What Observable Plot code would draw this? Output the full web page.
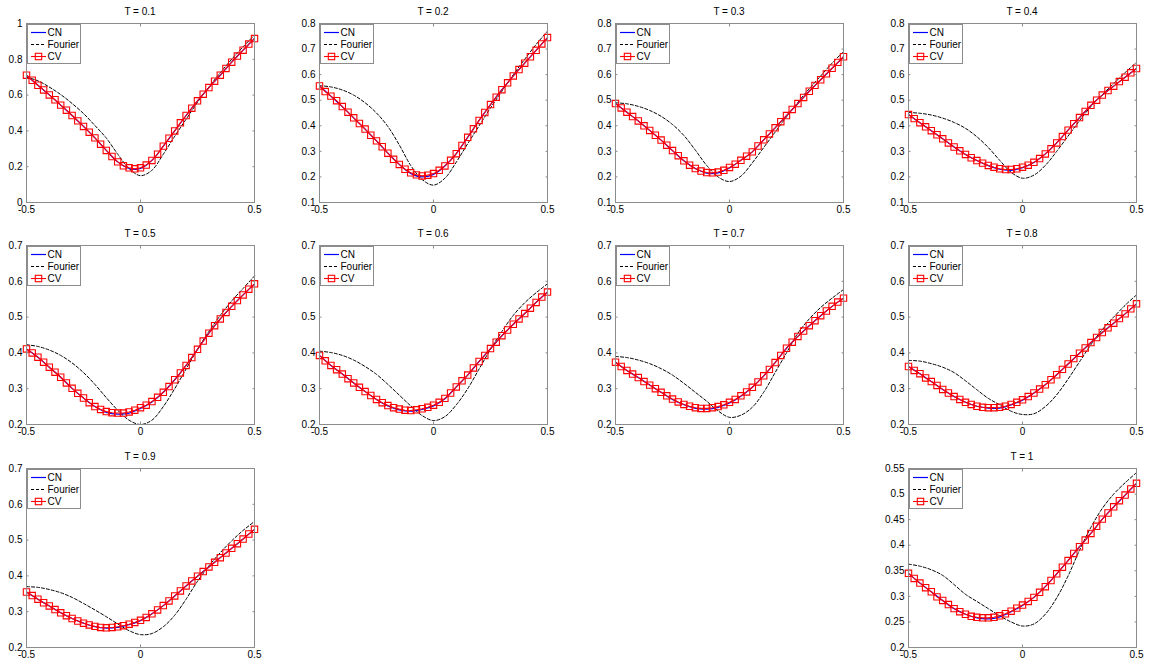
<!DOCTYPE html>
<html><head><meta charset="utf-8">
<script src="https://cdn.jsdelivr.net/npm/d3@7"></script>
<script src="https://cdn.jsdelivr.net/npm/@observablehq/plot@0.6"></script>
<style>
body{margin:0;background:#fff;font-family:"Liberation Sans",Arial,sans-serif;}
#root{position:relative;width:1151px;height:664px;overflow:hidden;background:#fff;}
.panel{position:absolute;}
.title{position:absolute;font-size:10px;line-height:12px;text-align:center;white-space:nowrap;color:#000;}
.legend{position:absolute;background:#fff;border:1px solid #8c8c8c;box-sizing:border-box;}
</style></head><body><div id="root"></div>
<script>
// ---------- data ----------
const xCV = [-0.5,-0.475,-0.45,-0.425,-0.4,-0.375,-0.35,-0.325,-0.3,-0.275,-0.25,-0.225,-0.2,-0.175,-0.15,-0.125,-0.1,-0.075,-0.05,-0.025,0,0.025,0.05,0.075,0.1,0.125,0.15,0.175,0.2,0.225,0.25,0.275,0.3,0.325,0.35,0.375,0.4,0.425,0.45,0.475,0.5];
const xF = [-0.5,-0.45,-0.4,-0.35,-0.3,-0.25,-0.2,-0.15,-0.1,-0.05,0,0.05,0.1,0.15,0.2,0.25,0.3,0.35,0.4,0.45,0.5];
const xTicks = [-0.5, 0, 0.5];
const titles = ["T = 0.1","T = 0.2","T = 0.3","T = 0.4","T = 0.5","T = 0.6","T = 0.7","T = 0.8","T = 0.9","T = 1"];
const seriesNames = ["CN","Fourier","CV"];

const yTicksA = [0,0.2,0.4,0.6,0.8,1];
const yTicksB = [0.1,0.2,0.3,0.4,0.5,0.6,0.7,0.8];
const yTicksC = [0.2,0.3,0.4,0.5,0.6,0.7];
const yTicksD = [0.2,0.25,0.3,0.35,0.4,0.45,0.5,0.55];

// CV (red squares), 41 points each
const cv01 = [0.711,0.683,0.655,0.629,0.601,0.574,0.544,0.516,0.486,0.456,0.425,0.393,0.361,0.326,0.291,0.257,0.227,0.205,0.194,0.188,0.194,0.209,0.235,0.270,0.315,0.359,0.400,0.445,0.486,0.527,0.568,0.605,0.642,0.678,0.711,0.749,0.784,0.818,0.851,0.885,0.916];
const cv02 = [0.556,0.534,0.516,0.498,0.475,0.453,0.431,0.409,0.387,0.363,0.341,0.318,0.293,0.269,0.249,0.230,0.216,0.208,0.204,0.207,0.213,0.226,0.243,0.265,0.291,0.323,0.355,0.388,0.421,0.452,0.483,0.512,0.541,0.568,0.595,0.620,0.645,0.670,0.695,0.720,0.745];
const cv03 = [0.487,0.470,0.453,0.436,0.419,0.400,0.382,0.363,0.344,0.324,0.303,0.283,0.263,0.246,0.233,0.223,0.217,0.216,0.219,0.226,0.237,0.250,0.265,0.281,0.298,0.321,0.345,0.368,0.392,0.416,0.440,0.464,0.487,0.511,0.535,0.558,0.580,0.603,0.625,0.648,0.670];
const cv04 = [0.444,0.428,0.412,0.396,0.381,0.365,0.349,0.333,0.317,0.302,0.288,0.275,0.264,0.254,0.245,0.238,0.232,0.229,0.229,0.232,0.238,0.246,0.257,0.272,0.290,0.310,0.333,0.358,0.383,0.408,0.432,0.456,0.480,0.500,0.520,0.538,0.555,0.573,0.590,0.607,0.624];
const cv05 = [0.411,0.400,0.388,0.374,0.360,0.346,0.332,0.316,0.301,0.287,0.274,0.261,0.250,0.242,0.236,0.233,0.232,0.232,0.235,0.240,0.247,0.254,0.264,0.276,0.290,0.306,0.325,0.344,0.365,0.387,0.410,0.433,0.455,0.476,0.495,0.513,0.530,0.546,0.562,0.578,0.593];
const cv06 = [0.393,0.378,0.365,0.353,0.341,0.328,0.316,0.304,0.292,0.281,0.270,0.261,0.253,0.247,0.243,0.240,0.239,0.241,0.244,0.248,0.254,0.262,0.273,0.288,0.305,0.322,0.338,0.358,0.376,0.393,0.412,0.430,0.448,0.464,0.480,0.495,0.510,0.525,0.541,0.556,0.570];
const cv07 = [0.374,0.362,0.351,0.341,0.331,0.320,0.310,0.300,0.290,0.280,0.271,0.263,0.256,0.251,0.247,0.245,0.245,0.247,0.250,0.255,0.262,0.270,0.280,0.291,0.304,0.319,0.336,0.354,0.373,0.393,0.413,0.430,0.446,0.461,0.476,0.490,0.504,0.517,0.530,0.542,0.553];
const cv08 = [0.362,0.351,0.342,0.330,0.320,0.309,0.298,0.288,0.278,0.270,0.262,0.256,0.251,0.248,0.247,0.247,0.248,0.251,0.256,0.262,0.269,0.278,0.288,0.299,0.311,0.325,0.339,0.354,0.369,0.384,0.399,0.414,0.429,0.443,0.457,0.470,0.483,0.496,0.509,0.523,0.537];
const cv09 = [0.355,0.345,0.335,0.325,0.316,0.306,0.297,0.289,0.281,0.274,0.268,0.263,0.259,0.256,0.255,0.256,0.258,0.261,0.265,0.270,0.276,0.284,0.294,0.305,0.317,0.330,0.344,0.358,0.372,0.386,0.399,0.412,0.425,0.438,0.451,0.464,0.477,0.490,0.503,0.517,0.530];
const cv10 = [0.345,0.335,0.326,0.317,0.309,0.299,0.292,0.284,0.276,0.270,0.265,0.261,0.259,0.258,0.258,0.259,0.262,0.266,0.271,0.277,0.283,0.290,0.298,0.308,0.319,0.331,0.344,0.357,0.370,0.384,0.397,0.410,0.423,0.437,0.451,0.463,0.475,0.487,0.498,0.510,0.521];

// CN (blue solid), 21 points each
const cn01 = [0.711,0.655,0.601,0.544,0.486,0.425,0.361,0.291,0.227,0.190,0.190,0.235,0.315,0.400,0.486,0.568,0.642,0.711,0.784,0.851,0.916];
const cn02 = [0.556,0.516,0.475,0.431,0.387,0.341,0.293,0.249,0.214,0.200,0.210,0.243,0.291,0.355,0.421,0.483,0.541,0.595,0.645,0.695,0.745];
const cn03 = [0.487,0.453,0.419,0.382,0.344,0.303,0.263,0.233,0.215,0.216,0.235,0.265,0.298,0.345,0.392,0.440,0.487,0.535,0.580,0.625,0.670];
const cn04 = [0.444,0.412,0.381,0.349,0.317,0.288,0.264,0.244,0.230,0.226,0.236,0.256,0.290,0.333,0.383,0.432,0.480,0.520,0.555,0.590,0.624];
const cn05 = [0.411,0.388,0.360,0.332,0.301,0.274,0.250,0.234,0.229,0.232,0.245,0.263,0.290,0.325,0.365,0.410,0.455,0.495,0.530,0.562,0.593];
const cn06 = [0.393,0.365,0.341,0.316,0.292,0.270,0.252,0.241,0.237,0.242,0.252,0.272,0.305,0.338,0.376,0.412,0.448,0.480,0.510,0.541,0.570];
const cn07 = [0.374,0.351,0.331,0.310,0.290,0.270,0.255,0.245,0.243,0.248,0.260,0.279,0.304,0.336,0.373,0.413,0.446,0.476,0.504,0.530,0.553];
const cn08 = [0.362,0.342,0.320,0.298,0.278,0.262,0.251,0.246,0.246,0.255,0.268,0.288,0.311,0.339,0.369,0.399,0.429,0.457,0.483,0.509,0.537];
const cn09 = [0.355,0.335,0.316,0.297,0.281,0.268,0.258,0.254,0.256,0.264,0.275,0.294,0.317,0.344,0.372,0.399,0.425,0.451,0.477,0.503,0.530];
const cn10 = [0.345,0.326,0.309,0.292,0.276,0.265,0.258,0.256,0.260,0.270,0.282,0.298,0.319,0.344,0.370,0.397,0.423,0.451,0.475,0.498,0.521];

// Fourier (black dashed), 21 points each
const f01 = [0.700,0.680,0.645,0.603,0.553,0.497,0.430,0.360,0.270,0.190,0.150,0.180,0.270,0.370,0.465,0.560,0.645,0.725,0.800,0.870,0.935];
const f02 = [0.557,0.552,0.540,0.520,0.490,0.450,0.397,0.325,0.245,0.190,0.168,0.195,0.258,0.330,0.400,0.470,0.535,0.600,0.660,0.718,0.770];
const f03 = [0.490,0.486,0.476,0.460,0.437,0.405,0.362,0.305,0.245,0.200,0.182,0.203,0.255,0.315,0.375,0.435,0.492,0.545,0.595,0.645,0.690];
const f04 = [0.452,0.449,0.442,0.430,0.413,0.390,0.357,0.315,0.265,0.218,0.195,0.207,0.245,0.300,0.360,0.420,0.475,0.522,0.565,0.608,0.648];
const f05 = [0.423,0.418,0.408,0.393,0.372,0.345,0.312,0.275,0.240,0.212,0.200,0.212,0.250,0.300,0.355,0.410,0.460,0.505,0.545,0.580,0.615];
const f06 = [0.405,0.401,0.393,0.380,0.362,0.340,0.312,0.282,0.252,0.225,0.211,0.222,0.255,0.300,0.355,0.410,0.460,0.505,0.540,0.568,0.593];
const f07 = [0.390,0.387,0.380,0.370,0.356,0.338,0.315,0.290,0.265,0.238,0.220,0.226,0.248,0.290,0.345,0.400,0.455,0.495,0.527,0.553,0.577];
const f08 = [0.379,0.377,0.370,0.360,0.345,0.322,0.297,0.273,0.255,0.237,0.228,0.230,0.250,0.283,0.327,0.375,0.423,0.465,0.500,0.533,0.562];
const f09 = [0.370,0.368,0.362,0.353,0.340,0.323,0.305,0.286,0.266,0.247,0.236,0.239,0.258,0.290,0.335,0.385,0.428,0.465,0.498,0.527,0.552];
const f10 = [0.363,0.359,0.352,0.341,0.323,0.304,0.290,0.276,0.262,0.250,0.242,0.246,0.265,0.297,0.340,0.390,0.435,0.472,0.500,0.522,0.542];

// ---------- layout ----------
const panels = [
  {title: titles[0], cv: cv01, cn: cn01, f: f01, yt: yTicksA},
  {title: titles[1], cv: cv02, cn: cn02, f: f02, yt: yTicksB},
  {title: titles[2], cv: cv03, cn: cn03, f: f03, yt: yTicksB},
  {title: titles[3], cv: cv04, cn: cn04, f: f04, yt: yTicksB},
  {title: titles[4], cv: cv05, cn: cn05, f: f05, yt: yTicksC},
  {title: titles[5], cv: cv06, cn: cn06, f: f06, yt: yTicksC},
  {title: titles[6], cv: cv07, cn: cn07, f: f07, yt: yTicksC},
  {title: titles[7], cv: cv08, cn: cn08, f: f08, yt: yTicksC},
  {title: titles[8], cv: cv09, cn: cn09, f: f09, yt: yTicksC},
  {title: titles[9], cv: cv10, cn: cn10, f: f10, yt: yTicksD}
];
const axLeft = [26, 319, 615, 908, 26, 319, 615, 908, 26, 908];
const axTop  = [23, 23, 23, 23, 245, 245, 245, 245, 468, 468];
const AW = 228, AH = 179;
const mL = 32, mR = 12, mT = 6, mB = 20;
const frameColor = "#8c8c8c";
const fmt = d => String(d);

const root = document.getElementById("root");

panels.forEach((p, i) => {
  const L = axLeft[i], T = axTop[i];
  const rowsCV = xCV.map((x, j) => ({x, y: p.cv[j]}));
  const rowsCN = xF.map((x, j) => ({x, y: p.cn[j]}));
  const rowsF  = xF.map((x, j) => ({x, y: p.f[j]}));
  const chart = Plot.plot({
    width: AW + mL + mR, height: AH + mT + mB,
    marginLeft: mL, marginRight: mR, marginTop: mT, marginBottom: mB,
    x: {domain: [-0.5, 0.5]},
    y: {domain: [p.yt[0], p.yt[p.yt.length - 1]]},
    style: {fontFamily: '"Liberation Sans", Arial, sans-serif', fontSize: "10px", color: "#000", background: "transparent", overflow: "visible"},
    marks: [
      Plot.line(rowsF, {x: "x", y: "y", stroke: "#000", strokeWidth: 1, strokeDasharray: "3,2", curve: "catmull-rom"}),
      Plot.line(rowsCN, {x: "x", y: "y", stroke: "#0000ff", strokeWidth: 1.2, curve: "catmull-rom"}),
      Plot.line(rowsCV, {x: "x", y: "y", stroke: "#ff0000", strokeWidth: 1.1}),
      Plot.dot(rowsCV, {x: "x", y: "y", symbol: "square", r: 3.6, stroke: "#ff0000", strokeWidth: 1.1, fill: "none"}),
      Plot.frame({stroke: frameColor, strokeWidth: 1}),
      Plot.axisX(xTicks, {anchor: "bottom", tickSize: 0, tickPadding: 3, tickFormat: fmt, label: null, fontSize: 10}),
      Plot.axisY(p.yt, {anchor: "left", tickSize: 0, tickPadding: 4, tickFormat: fmt, label: null, fontSize: 10}),
      Plot.axisX(xTicks, {anchor: "bottom", tickSize: -2.5, fill: "none", stroke: frameColor, label: null}),
      Plot.axisX(xTicks, {anchor: "top", tickSize: -2.5, fill: "none", stroke: frameColor, label: null}),
      Plot.axisY(p.yt, {anchor: "left", tickSize: -2.5, fill: "none", stroke: frameColor, label: null}),
      Plot.axisY(p.yt, {anchor: "right", tickSize: -2.5, fill: "none", stroke: frameColor, label: null})
    ]
  });
  const wrap = document.createElement("div");
  wrap.className = "panel";
  wrap.style.left = (L - mL) + "px";
  wrap.style.top = (T - mT) + "px";
  wrap.appendChild(chart);
  root.appendChild(wrap);

  const t = document.createElement("div");
  t.className = "title";
  t.style.left = L + "px";
  t.style.width = AW + "px";
  t.style.top = (T - 17) + "px";
  t.textContent = p.title;
  root.appendChild(t);

  const lg = document.createElement("div");
  lg.className = "legend";
  lg.style.left = (L + 1) + "px";
  lg.style.top = (T + 1) + "px";
  lg.style.width = "54px";
  lg.style.height = "40px";
  lg.innerHTML =
    `<svg width="52" height="38" style="display:block;font-family:'Liberation Sans',Arial,sans-serif;font-size:10px">
      <line x1="3" x2="18" y1="7.5" y2="7.5" stroke="#0000ff" stroke-width="1.2"/>
      <text x="19.5" y="11">${seriesNames[0]}</text>
      <line x1="3" x2="18" y1="19.5" y2="19.5" stroke="#000" stroke-width="1" stroke-dasharray="3,2"/>
      <text x="19.5" y="23">${seriesNames[1]}</text>
      <line x1="3" x2="18" y1="31.5" y2="31.5" stroke="#ff0000" stroke-width="1.1"/>
      <rect x="7.3" y="28.3" width="6.4" height="6.4" fill="none" stroke="#ff0000" stroke-width="1.1"/>
      <text x="19.5" y="35">${seriesNames[2]}</text>
    </svg>`;
  root.appendChild(lg);
});
</script>
</body></html>
